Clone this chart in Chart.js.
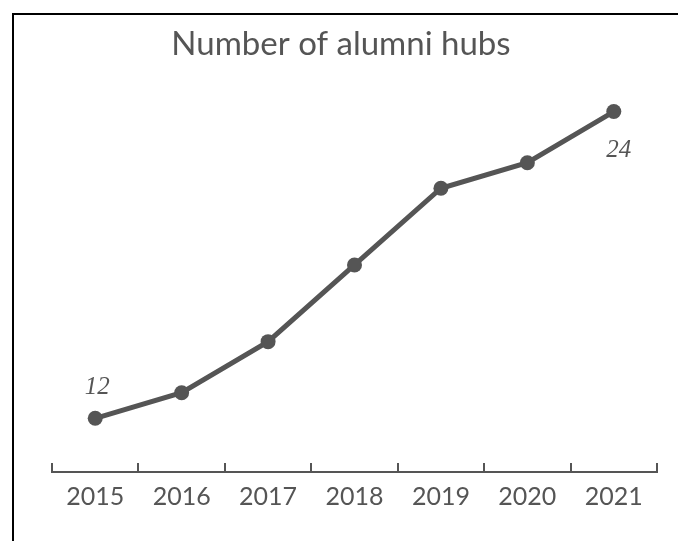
<!DOCTYPE html>
<html>
  <head>
    <meta charset="UTF-8">
    <title>alumni hubs</title>
    <script src="https://cdn.jsdelivr.net/npm/chart.js@4"></script>
    <style type="text/css">
      body { margin: 0; background: #fff; }
      #wrap { position: relative; width: 678px; height: 541px; }
      #frame { position: absolute; left: 12px; top: 13px; right: 0; bottom: 0;
               border-top: 2px solid #000; border-left: 2px solid #000; }
      #myChart { position: absolute; left: 0; top: 0; }
    </style>
  </head>
  <body>
    <div id="wrap">
      <canvas id="myChart" width="678" height="541"></canvas>
      <div id="frame"></div>
    </div>
    <script>
    var years = ['2015', '2016', '2017', '2018', '2019', '2020', '2021'];
    var hubs = [12, 13, 15, 18, 21, 22, 24];
    // only first and last point get a value label
    var labelAt = { 0: 'above', 6: 'below' };

    var grey = '#555555';

    var endLabels = {
      id: 'endLabels',
      afterDatasetsDraw: function(chart) {
        var ctx = chart.ctx;
        var pts = chart.getDatasetMeta(0).data;
        ctx.save();
        ctx.font = 'italic 25px "Liberation Serif"';
        ctx.fillStyle = grey;
        ctx.textAlign = 'center';
        ctx.textBaseline = 'middle';
        for (var i in labelAt) {
          var p = pts[i];
          if (labelAt[i] == 'above') {
            ctx.fillText(String(hubs[i]), p.x + 2, p.y - 31);
          } else {
            ctx.fillText(String(hubs[i]), p.x + 5, p.y + 39);
          }
        }
        ctx.restore();
      }
    };

    var ctx = document.getElementById('myChart').getContext('2d');
    var chart = new Chart(ctx, {
      type: 'line',
      data: {
        labels: years,
        datasets: [{
          data: hubs,
          borderColor: grey,
          backgroundColor: grey,
          borderWidth: 5,
          pointRadius: 7.5,
          pointBackgroundColor: grey,
          pointBorderWidth: 0,
          fill: false,
          tension: 0
        }]
      },
      options: {
        responsive: false,
        animation: false,
        layout: { padding: { left: 25, right: 21, top: 0, bottom: 10 } },
        plugins: {
          legend: { display: false },
          tooltip: { enabled: false },
          title: {
            display: true,
            text: 'Number of alumni hubs',
            color: grey,
            font: { family: 'Lato', size: 33, weight: 'normal', lineHeight: 1.2 },
            padding: { top: 25, bottom: 15 }
          }
        },
        scales: {
          y: {
            display: true,
            min: 9.9,
            max: 25.25,
            ticks: { display: false },
            grid: { display: false },
            border: { display: false },
            // invisible spacer so the plot starts at x=52
            afterFit: function(scale) { scale.width = 27; }
          },
          x: {
            offset: true,
            grid: {
              offset: true,
              drawOnChartArea: false,
              color: grey,
              lineWidth: 2,
              tickLength: -9
            },
            border: { display: true, color: grey, width: 2 },
            ticks: {
              color: grey,
              padding: 19,
              font: { family: 'Lato', size: 25 }
            }
          }
        }
      },
      plugins: [endLabels]
    });
    </script>
  </body>
</html>
